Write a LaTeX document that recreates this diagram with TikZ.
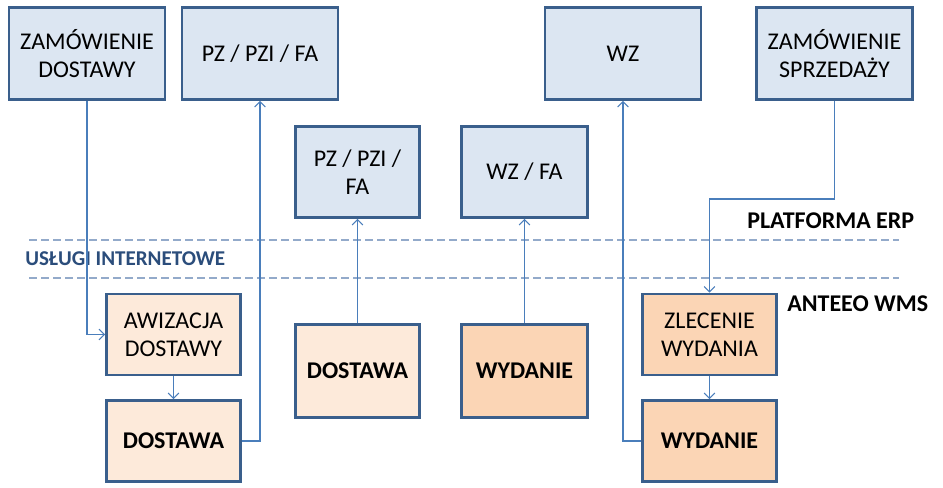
\documentclass[tikz,border=0pt]{standalone}
\usepackage{fontspec}
\setmainfont{Carlito}
\usetikzlibrary{arrows.meta,positioning,calc}
\definecolor{erpfill}{HTML}{DCE6F2}
\definecolor{boxline}{HTML}{3A5F8C}
\definecolor{wmslight}{HTML}{FDEADA}
\definecolor{wmsdark}{HTML}{FBD5B5}
\definecolor{linkcol}{HTML}{4A7EBB}
\definecolor{sepcol}{HTML}{93AACA}
\definecolor{webcol}{HTML}{2B4D7B}

\begin{document}
\begin{tikzpicture}[x=0.75pt,y=-0.75pt,
  box/.style={draw=boxline,line width=2.2pt,align=center,inner sep=2pt,font=\fontsize{18}{21}\selectfont},
  erpbox/.style={box,fill=erpfill,minimum width=117pt,minimum height=69pt},
  wmsbox/.style={box,minimum width=100.5pt,minimum height=60.75pt},
  link/.style={draw=linkcol,line width=0.8pt,-{Straight Barb[length=4pt,width=8pt]}},
  sep/.style={sepcol,line width=1.5pt,dash pattern=on 6pt off 3pt},
  lane/.style={anchor=west,inner sep=0pt,font=\fontsize{18}{21}\selectfont\bfseries}]
\useasboundingbox (0,0) rectangle (943,487);
% platforma ERP
\node[erpbox] (zd) at (87,53.5) {ZAMÓWIENIE\\DOSTAWY};
\node[erpbox] (pz1) at (260,53.5) {PZ / PZI / FA};
\node[erpbox] (wz) at (623,53.5) {WZ};
\node[erpbox] (zs) at (834.5,53.5) {ZAMÓWIENIE\\SPRZEDAŻY};
\node[erpbox,minimum width=93pt,minimum height=68.25pt] (pz2) at (357.5,172) {PZ / PZI /\\FA};
\node[erpbox,minimum width=94.5pt,minimum height=68.25pt] (wzfa) at (524.5,172) {WZ / FA};
% separatory
\draw[sep] (29,240) -- (899,240);
\draw[sep] (29,278) -- (899,278);
\node[lane] (erp) at (747,221) {PLATFORMA ERP};
\node[lane,text=webcol,font=\fontsize{15.8}{18}\selectfont\bfseries] (web) at (25,259) {USŁUGI INTERNETOWE};
\node[lane] (wms) at (787,304) {ANTEEO WMS};
% anteeo WMS
\node[wmsbox,fill=wmslight] (awiz) at (173.5,334.5) {AWIZACJA\\DOSTAWY};
\node[wmsbox,fill=wmslight] (dost1) at (173.5,441) {\bfseries DOSTAWA};
\node[wmsbox,fill=wmslight,minimum width=93pt,minimum height=69.75pt] (dost2) at (357.5,371) {\bfseries DOSTAWA};
\node[wmsbox,fill=wmsdark,minimum width=94.5pt,minimum height=69.75pt] (wyd1) at (524.5,371) {\bfseries WYDANIE};
\node[wmsbox,fill=wmsdark] (zlec) at (709.5,334.5) {ZLECENIE\\WYDANIA};
\node[wmsbox,fill=wmsdark] (wyd2) at (709.5,441) {\bfseries WYDANIE};
% przeplywy
\draw[link] (zd.south) |- (awiz.west);
\draw[link] (awiz) -- (dost1);
\draw[link] (dost1.east) -| (pz1.south);
\draw[link] (dost2) -- (pz2);
\draw[link] (wyd1) -- (wzfa);
\draw[link] (wyd2.west) -| (wz.south);
\coordinate (zsknee) at (834.5,199);
\draw[link] (zs.south) -- (zsknee) -| (zlec.north);
\draw[link] (zlec) -- (wyd2);
\end{tikzpicture}
\end{document}
